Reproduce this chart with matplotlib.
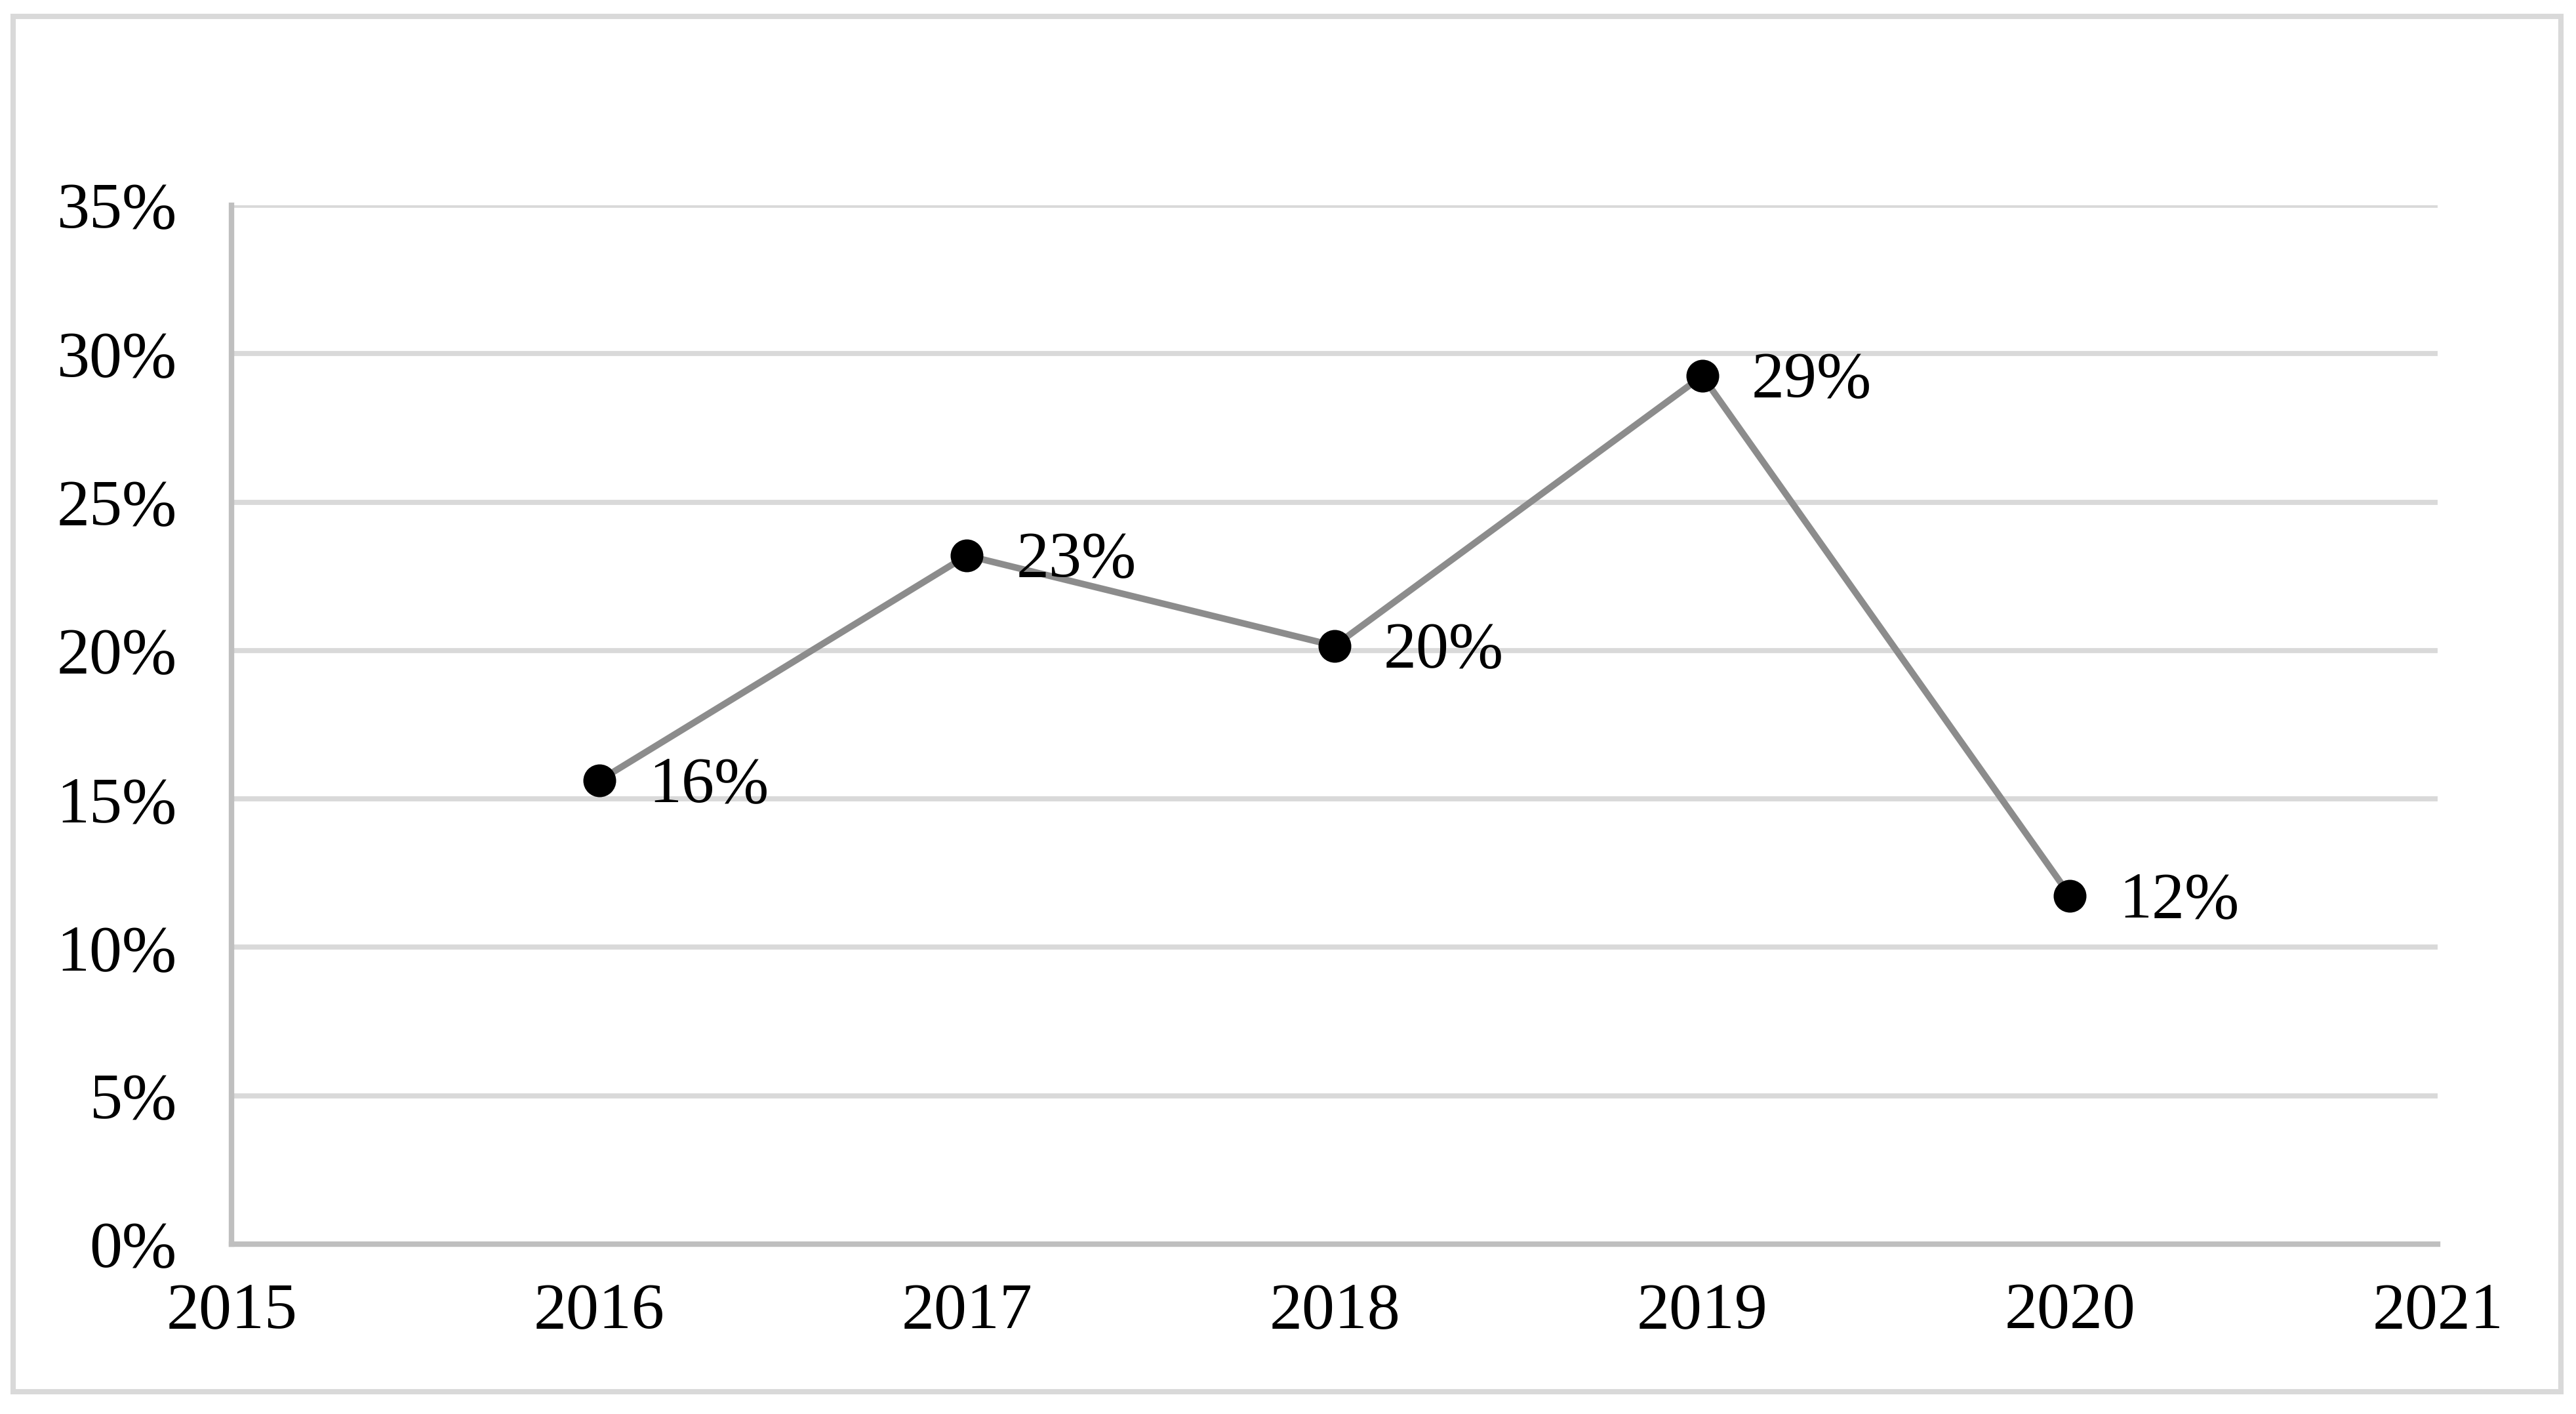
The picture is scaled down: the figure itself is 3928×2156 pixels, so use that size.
import matplotlib.pyplot as plt
from matplotlib.patches import Rectangle
from matplotlib.ticker import FuncFormatter, MultipleLocator

# data
years = [2016, 2017, 2018, 2019, 2020]
share = [0.1562, 0.2320, 0.2016, 0.2925, 0.1174]
labels = ['16%', '23%', '20%', '29%', '12%']

plt.rcParams['font.family'] = ['Liberation Serif', 'DejaVu Serif']

fig = plt.figure(figsize=(19.64, 10.78), dpi=200)
ax = fig.add_axes([0.0899, 0.1201, 0.8564, 0.7347])

# outer chart border
fig.patches.append(Rectangle((0.0051, 0.0158), 0.9891, 0.9726, transform=fig.transFigure,
                             fill=False, edgecolor='#d9d9d9', linewidth=2.9, zorder=0))

ax.plot(years, share, color='#8c8c8c', linewidth=3.6, zorder=3,
        marker='o', markersize=17, markerfacecolor='black', markeredgecolor='black')

for x, y, t in zip(years, share, labels):
    ax.annotate(t, (x, y), xytext=(27, -3), textcoords='offset points',
                ha='left', va='center', fontsize=36, color='black')

ax.set_xlim(2015, 2021)
ax.set_ylim(0, 0.35)
ax.set_xticks(range(2015, 2022))
ax.yaxis.set_major_locator(MultipleLocator(0.05))
ax.yaxis.set_major_formatter(FuncFormatter(lambda v, p: f'{v * 100:.0f}%'))

ax.grid(axis='y', color='#d9d9d9', linewidth=2.8)
ax.set_axisbelow(True)
for s in ['top', 'right']:
    ax.spines[s].set_visible(False)
for s in ['left', 'bottom']:
    ax.spines[s].set_color('#bfbfbf')
    ax.spines[s].set_linewidth(3.0)

ax.tick_params(axis='x', length=0, pad=21, labelsize=36)
ax.tick_params(axis='y', length=0, pad=30, labelsize=36)

fig.savefig('out.png', dpi=200)
